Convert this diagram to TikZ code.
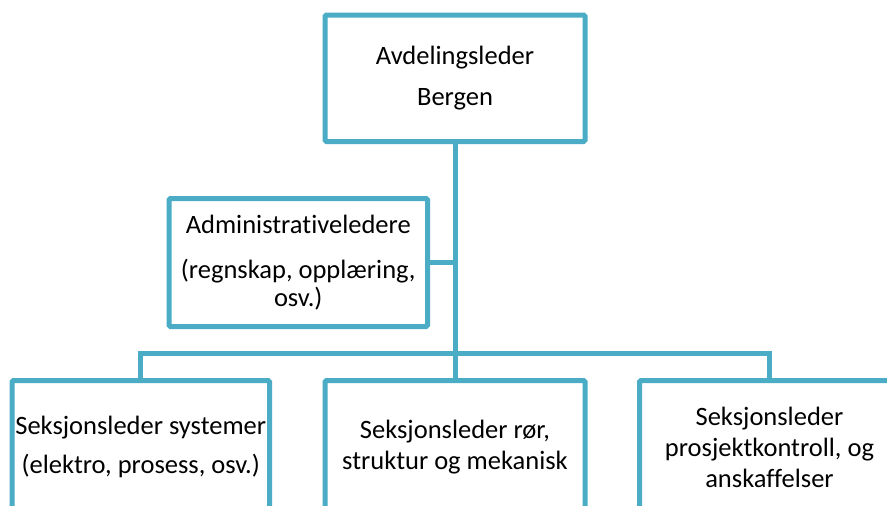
\documentclass[tikz,border=0pt]{standalone}
\usepackage{fontspec}
\setmainfont{Carlito}[Ligatures=NoCommon]
\definecolor{orgblue}{HTML}{4BACC6}
\begin{document}
\begin{tikzpicture}[x=1pt,y=-1pt,
  orgbox/.style={draw=orgblue, line width=5pt, rounded corners=1.5pt, fill=white,
    align=center, inner sep=0pt, text=black,
    font=\fontsize{26.5}{31}\selectfont},
  link/.style={draw=orgblue, line width=5pt}]
\useasboundingbox (0,0) rectangle (887,506);
\clip (0,0) rectangle (887,506);
\fill[white] (0,0) rectangle (887,506);

\node[orgbox, minimum width=260pt, minimum height=126.5pt] (top) at (455,78.25)
  {Avdelingsleder\\[10pt]Bergen};
\node[orgbox, minimum width=258.5pt, minimum height=128pt] (admin) at (298.25,262.5)
  {Administrativeledere\\[14pt](regnskap, oppl\ae ring,\\[-3pt]osv.)};
\node[orgbox, minimum width=257.5pt, minimum height=133.5pt] (left) at (140.75,447.25)
  {Seksjonsleder systemer\\[8pt](elektro, prosess, osv.)};
\node[orgbox, minimum width=260pt, minimum height=133.5pt] (mid) at (455,447.25)
  {Seksjonsleder r\o r,\\struktur og mekanisk};
\node[orgbox, minimum width=260pt, minimum height=133.5pt] (right) at (769.5,447.25)
  {Seksjonsleder\\prosjektkontroll, og\\anskaffelser};

\coordinate (j) at (455,353.5);
\coordinate (jl) at (left.north |- j);
\coordinate (jr) at (right.north |- j);
\coordinate (ja) at (top.south |- admin.east);

\draw[link] (top.south) -- (j);
\draw[link] (admin.east) -- (ja);
\draw[link, line cap=rect] (jl) -- (jr);
\draw[link] (jl) -- (left.north);
\draw[link] (j) -- (mid.north);
\draw[link] (jr) -- (right.north);
\end{tikzpicture}
\end{document}
